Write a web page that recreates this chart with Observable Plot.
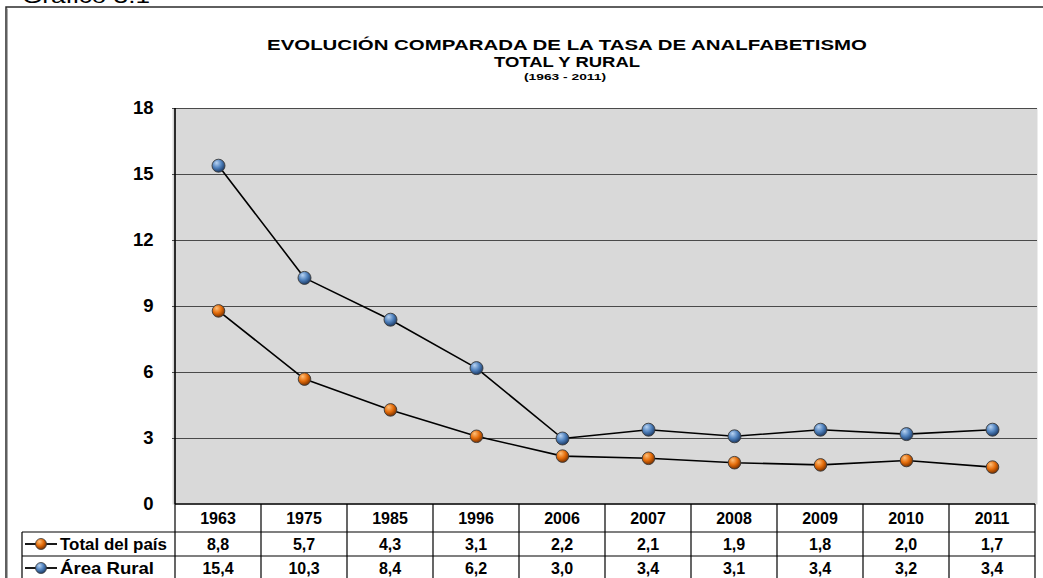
<!DOCTYPE html>
<html>
<head>
<meta charset="utf-8">
<script src="https://cdn.jsdelivr.net/npm/d3@7"></script>
<script src="https://cdn.jsdelivr.net/npm/@observablehq/plot@0.6"></script>
<style>
  html, body { margin: 0; padding: 0; background: #fff; }
  #chart svg { display: block; }
</style>
</head>
<body>
<div id="chart"></div>
<script>
const years = ["1963", "1975", "1985", "1996", "2006", "2007", "2008", "2009", "2010", "2011"];
const totalPais = [8.8, 5.7, 4.3, 3.1, 2.2, 2.1, 1.9, 1.8, 2.0, 1.7];
const areaRural = [15.4, 10.3, 8.4, 6.2, 3.0, 3.4, 3.1, 3.4, 3.2, 3.4];
const yTicks = [0, 3, 6, 9, 12, 15, 18];
const seriesNames = ["Total del país", "Área Rural"];
const titleLines = ["EVOLUCIÓN COMPARADA DE LA TASA DE ANALFABETISMO", "TOTAL Y RURAL", "(1963 - 2011)"];
const figLabel = "Gráfico 3.1";

const rows = years.map((year, i) => ({year, total: totalPais[i], rural: areaRural[i]}));
const fmt = v => v.toFixed(1).replace(".", ",");
const FONT = "'Liberation Sans', Arial, sans-serif";

const plot = Plot.plot({
  width: 1043,
  height: 578,
  marginLeft: 172,
  marginRight: 6,
  marginTop: 108,
  marginBottom: 74,
  style: {fontFamily: FONT, color: "#000", background: "#fff", overflow: "visible"},
  x: {type: "point", domain: years, padding: 0.5, axis: null},
  y: {domain: [0, 18]},
  marks: [
    Plot.frame({fill: "#d9d9d9", stroke: null}),
    Plot.ruleY(yTicks.filter(d => d > 0), {stroke: "#4a4a4a", strokeWidth: 1}),
    Plot.axisY({ticks: yTicks, tickSize: 0, tickPadding: 19, fontSize: 18.5, fontWeight: "bold", label: null, fill: "#000"}),
    Plot.lineY(rows, {x: "year", y: "rural", stroke: "#000", strokeWidth: 1.6}),
    Plot.lineY(rows, {x: "year", y: "total", stroke: "#000", strokeWidth: 1.6}),
    Plot.dot(rows, {x: "year", y: "rural", r: 6.5, fill: "url(#gBlue)", stroke: "#3a3a3a", strokeWidth: 0.9}),
    Plot.dot(rows, {x: "year", y: "total", r: 6.3, fill: "url(#gOrange)", stroke: "#3a3a3a", strokeWidth: 0.9})
  ]
});

const svg = d3.select(plot);
const defs = svg.insert("defs", ":first-child");
function sphere(id, hi, mid, lo) {
  const gr = defs.append("radialGradient").attr("id", id)
    .attr("cx", "40%").attr("cy", "35%").attr("r", "65%").attr("fx", "35%").attr("fy", "28%");
  gr.append("stop").attr("offset", "0%").attr("stop-color", hi);
  gr.append("stop").attr("offset", "55%").attr("stop-color", mid);
  gr.append("stop").attr("offset", "100%").attr("stop-color", lo);
}
sphere("gBlue", "#b9d4f3", "#4f81bd", "#1d3b66");
sphere("gOrange", "#ffc07a", "#e46c0a", "#7a3200");

const xs = plot.scale("x");
const ys = plot.scale("y");
const step = xs.apply(years[1]) - xs.apply(years[0]);
const left0 = xs.apply(years[0]) - step / 2;
const right0 = left0 + step * years.length;
const top0 = ys.apply(0);
const yTop = ys.apply(18);
const headH = 28, rowH = 24;
const labelLeft = 22;
const bottom = top0 + headH + rowH * 2 + 2;

const g = svg.append("g").attr("font-family", FONT).attr("fill", "#000").attr("text-anchor", "start");

// outer frame
g.append("path").attr("d", `M6,${bottom + 10}V7H1050`).attr("fill", "none").attr("stroke", "#2b2b2b").attr("stroke-width", 1.5);
g.append("path").attr("d", `M7.5,${bottom + 10}V8.5`).attr("fill", "none").attr("stroke", "#aaa").attr("stroke-width", 1);

// figure label (cut off at top as in the source page)
g.append("text").attr("x", 22).attr("y", 2.5).attr("font-size", 20).attr("text-anchor", "start")
  .attr("textLength", 128).attr("lengthAdjust", "spacingAndGlyphs").text(figLabel);

// titles
const tx = 567;
g.append("text").attr("x", tx).attr("y", 50).attr("text-anchor", "middle").attr("font-size", 14).attr("font-weight", "bold")
  .attr("textLength", 600).attr("lengthAdjust", "spacingAndGlyphs").text(titleLines[0]);
g.append("text").attr("x", tx).attr("y", 67).attr("text-anchor", "middle").attr("font-size", 14).attr("font-weight", "bold")
  .attr("textLength", 146).attr("lengthAdjust", "spacingAndGlyphs").text(titleLines[1]);
g.append("text").attr("x", tx - 2).attr("y", 80).attr("text-anchor", "middle").attr("font-size", 9.5).attr("font-weight", "bold")
  .attr("textLength", 82).attr("lengthAdjust", "spacingAndGlyphs").text(titleLines[2]);

// axis line
g.append("line").attr("x1", left0).attr("x2", left0).attr("y1", yTop).attr("y2", top0).attr("stroke", "#000").attr("stroke-width", 1.6);

// table
const tl = g.append("g").attr("stroke", "#000").attr("stroke-width", 1.2);
tl.append("line").attr("x1", left0).attr("x2", right0).attr("y1", top0).attr("y2", top0).attr("stroke-width", 1.6);
[top0 + headH, top0 + headH + rowH].forEach(yy =>
  tl.append("line").attr("x1", labelLeft).attr("x2", right0).attr("y1", yy).attr("y2", yy));
for (let k = 0; k <= years.length; k++) {
  const xx = left0 + k * step;
  tl.append("line").attr("x1", xx).attr("x2", xx).attr("y1", top0).attr("y2", bottom + 10);
}
tl.append("line").attr("x1", labelLeft).attr("x2", labelLeft).attr("y1", top0 + headH).attr("y2", bottom + 10);

years.forEach((yr, i) => {
  const cx = xs.apply(yr);
  g.append("text").attr("x", cx).attr("y", top0 + headH / 2 + 6).attr("text-anchor", "middle")
    .attr("font-size", 16).attr("font-weight", "bold").text(yr);
  g.append("text").attr("x", cx).attr("y", top0 + headH + rowH / 2 + 6).attr("text-anchor", "middle")
    .attr("font-size", 16).attr("font-weight", "bold").text(fmt(totalPais[i]));
  g.append("text").attr("x", cx).attr("y", top0 + headH + rowH * 1.5 + 6).attr("text-anchor", "middle")
    .attr("font-size", 16).attr("font-weight", "bold").text(fmt(areaRural[i]));
});

// legend keys in table
const labelLens = [107, 94];
seriesNames.forEach((name, i) => {
  const cy = top0 + headH + rowH * (i + 0.5);
  g.append("line").attr("x1", 25).attr("x2", 57).attr("y1", cy).attr("y2", cy).attr("stroke", "#000").attr("stroke-width", 1.8);
  g.append("circle").attr("cx", 41).attr("cy", cy).attr("r", 5.5)
    .attr("fill", i === 0 ? "url(#gOrange)" : "url(#gBlue)").attr("stroke", "#3a3a3a").attr("stroke-width", 0.8);
  g.append("text").attr("x", 60).attr("y", cy + 6).attr("font-size", 16.5).attr("font-weight", "bold")
    .attr("text-anchor", "start")
    .attr("textLength", labelLens[i]).attr("lengthAdjust", "spacingAndGlyphs").text(name);
});

document.getElementById("chart").appendChild(plot);
</script>
</body>
</html>
